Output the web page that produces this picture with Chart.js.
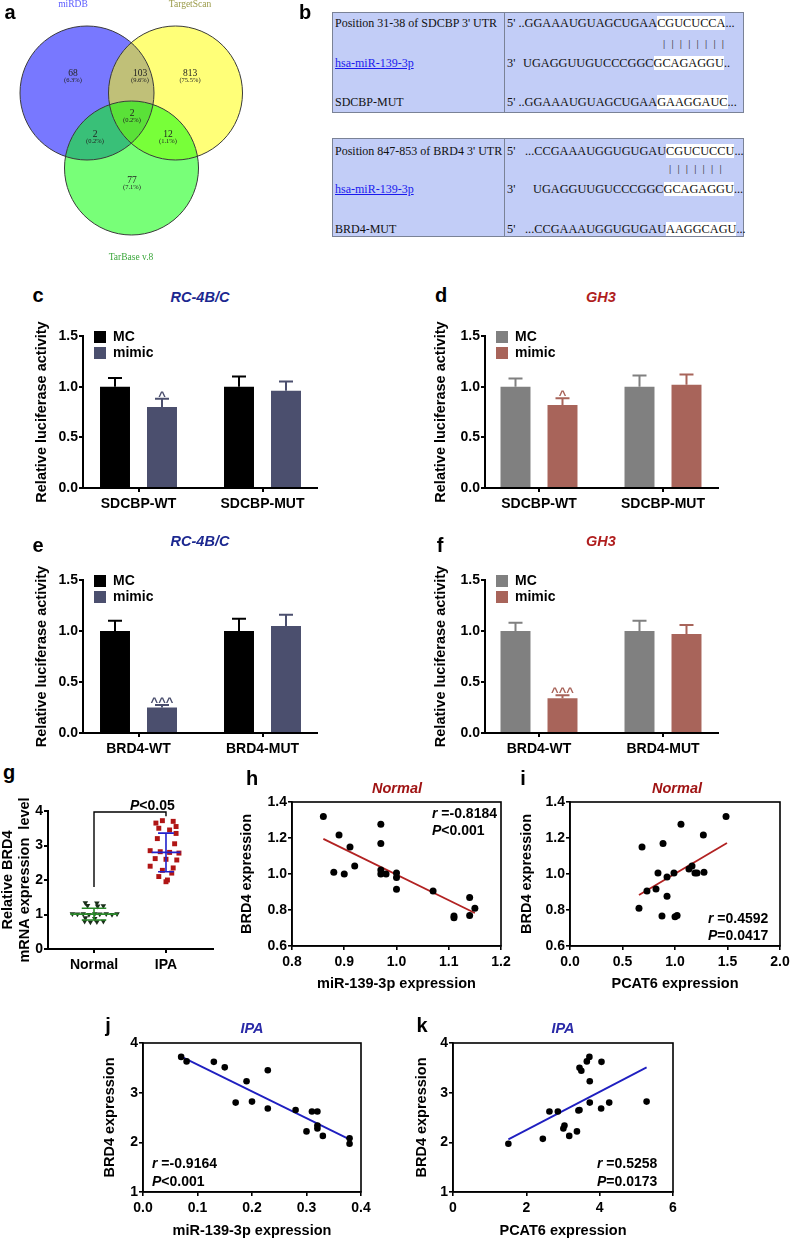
<!DOCTYPE html>
<html>
<head>
<meta charset="utf-8">
<title>miR-139-3p / BRD4</title>
<script src="https://cdn.jsdelivr.net/npm/chart.js@4.4.1/dist/chart.umd.min.js"></script>
<style>
  body { margin: 0; background: #fff; }
  #page { position: relative; width: 790px; height: 1240px; overflow: hidden; font-family: "Liberation Sans", Arial, sans-serif; }
  #page canvas { position: absolute; }
  .txt { position: absolute; white-space: nowrap; line-height: 1; font-weight: bold; }
  .mid { transform: translate(-50%, -50%); }
  .letter { font-size: 20px; }
  .ttl { font-size: 14.5px; font-style: italic; }
  .stat { font-size: 14px; transform: translateY(-50%); }
  .seq { position: absolute; box-sizing: border-box; background: #c2cdf7; border: 1px solid #7a8296;
         font-family: "Liberation Serif", "Times New Roman", serif; font-size: 12px; color: #111; }
  .seq .v { position: absolute; top: 0; bottom: 0; border-left: 1px solid #7a8296; }
  .seq .r { position: absolute; white-space: nowrap; line-height: 15px; }
  .seq .s { font-size: 12.3px; }
  .seq .hl { background: #fff; }
  .seq .lnk { color: #1a1aee; text-decoration: underline; }
  .seq .bars { letter-spacing: 6.2px; font-size: 11px; color: #222; }
</style>
</head>
<body>
<div id="page">
  <div class="seq" style="left:332px;top:12px;width:412px;height:101px">
    <div class="v" style="left:171px"></div>
    <span class="r" style="left:2px;top:3px">Position 31-38 of SDCBP 3' UTR</span>
    <span class="r s" style="left:174px;top:3px">5' ..GGAAAUGUAGCUGAA<span class="hl">CGUCUCCA</span>...</span>
    <span class="r bars" style="left:330px;top:23px">||||||||</span>
    <span class="r lnk" style="left:2px;top:43px">hsa-miR-139-3p</span>
    <span class="r s" style="left:174px;top:43px">3'</span>
    <span class="r s" style="left:190px;top:43px">UGAGGUUGUCCCGGC<span class="hl">GCAGAGGU</span>..</span>
    <span class="r" style="left:2px;top:82px">SDCBP-MUT</span>
    <span class="r s" style="left:174px;top:82px">5' ..GGAAAUGUAGCUGAA<span class="hl">GAAGGAUC</span>...</span>
  </div>
  <div class="seq" style="left:332px;top:138px;width:412px;height:99px">
    <div class="v" style="left:171px"></div>
    <span class="r" style="left:2px;top:5px">Position 847-853 of BRD4 3' UTR</span>
    <span class="r s" style="left:174px;top:5px">5'</span>
    <span class="r s" style="left:192px;top:5px">...CCGAAAUGGUGUGAU<span class="hl">CGUCUCCU</span>...</span>
    <span class="r bars" style="left:336px;top:22px">|||||||</span>
    <span class="r lnk" style="left:2px;top:43px">hsa-miR-139-3p</span>
    <span class="r s" style="left:174px;top:43px">3'</span>
    <span class="r s" style="left:200px;top:43px">UGAGGUUGUCCCGGC<span class="hl">GCAGAGGU</span>...</span>
    <span class="r" style="left:2px;top:83px">BRD4-MUT</span>
    <span class="r s" style="left:174px;top:83px">5'</span>
    <span class="r s" style="left:192px;top:83px">...CCGAAAUGGUGUGAU<span class="hl">AAGGCAGU</span>...</span>
  </div>
</div>
<script>
// ---------------- data ----------------
// a: Venn of predicted targets
const vennNames = ['miRDB', 'TargetScan', 'TarBase v.8'];
const vennCounts = [68, 103, 813, 2, 2, 12, 77];
const vennPct = ['(6.3%)', '(9.6%)', '(75.5%)', '(0.2%)', '(0.2%)', '(1.1%)', '(7.1%)'];

// c-f: dual luciferase
const groupNames = ['MC', 'mimic'];
const sdcbpGroups = ['SDCBP-WT', 'SDCBP-MUT'];
const brd4Groups = ['BRD4-WT', 'BRD4-MUT'];
const cMC = [1.00, 1.00],    cMCsd = [0.085, 0.10];
const cMimic = [0.80, 0.96], cMimicSd = [0.08, 0.09];
const dMC = [1.00, 1.00],    dMCsd = [0.08, 0.11];
const dMimic = [0.82, 1.02], dMimicSd = [0.065, 0.10];
const eMC = [1.00, 1.00],    eMCsd = [0.10, 0.12];
const eMimic = [0.25, 1.05], eMimicSd = [0.025, 0.11];
const fMC = [1.00, 1.00],    fMCsd = [0.08, 0.10];
const fMimic = [0.34, 0.97], fMimicSd = [0.03, 0.09];
const wtMarks = ['^', ''];
const wtMarks3 = ['^^^', ''];
const barTicks = [0, 0.5, 1.0, 1.5];

// g: BRD4 mRNA in tissue
const gGroups = ['Normal', 'IPA'];
const gNormal = [1.34, 1.33, 1.26, 1.24, 1.25, 1.02, 1.01, 1.02, 1.00, 1.02, 1.01, 1.02, 1.00, 1.02, 0.90, 0.88, 0.80, 0.78, 0.79, 0.80];
const gNormalJit = [-0.12, 0.04, -0.09, 0.05, 0.13, -0.30, -0.23, -0.15, -0.07, 0.01, 0.08, 0.17, 0.25, 0.32, -0.12, 0.01, -0.13, -0.05, 0.04, 0.13];
const gIPA = [3.72, 3.70, 3.65, 3.55, 3.50, 3.45, 3.35, 3.20, 3.05, 2.85, 2.82, 2.80, 2.78, 2.62, 2.60, 2.58, 2.40, 2.35, 2.28, 2.20, 2.10, 2.00, 1.95];
const gIPAJit = [-0.05, 0.10, -0.14, 0.14, -0.10, 0.05, 0.14, -0.12, 0.12, -0.22, -0.08, 0.05, 0.18, -0.15, 0.00, 0.15, -0.22, 0.10, -0.05, 0.08, -0.10, 0.02, 0.00];
const gMeans = [1.01, 2.80];
const gSds = [0.17, 0.56];
const gTicks = [0, 1, 2, 3, 4];

// h: Normal, miR-139-3p vs BRD4
const hX = [0.86, 0.89, 0.911, 0.97, 0.97, 0.88, 0.90, 0.92, 0.97, 0.97, 0.98, 1.00, 1.00, 1.00, 1.07, 1.14, 1.11, 1.11, 1.14, 1.15];
const hY = [1.32, 1.217, 1.15, 1.277, 1.17, 1.01, 1.00, 1.044, 1.022, 1.00, 1.00, 1.005, 0.98, 0.915, 0.906, 0.87, 0.767, 0.757, 0.77, 0.81];
const hFitX = [0.86, 1.15], hFitY = [1.195, 0.783];
const hXTicks = [0.8, 0.9, 1.0, 1.1, 1.2];
// i: Normal, PCAT6 vs BRD4
const iX = [0.686, 0.886, 1.057, 1.27, 1.486, 0.657, 0.733, 0.819, 0.838, 0.924, 0.924, 0.876, 0.99, 1.0, 1.02, 1.133, 1.162, 1.19, 1.21, 1.276];
const iY = [1.15, 1.17, 1.277, 1.217, 1.32, 0.81, 0.906, 0.917, 1.005, 0.983, 0.877, 0.767, 1.005, 0.762, 0.77, 1.028, 1.045, 1.005, 1.005, 1.01];
const iFitX = [0.657, 1.495], iFitY = [0.883, 1.172];
const iXTicks = [0, 0.5, 1.0, 1.5, 2.0];
const normalYTicks = [0.6, 0.8, 1.0, 1.2, 1.4];
// j: IPA, miR-139-3p vs BRD4
const jX = [0.070, 0.080, 0.130, 0.150, 0.190, 0.229, 0.170, 0.200, 0.229, 0.280, 0.310, 0.320, 0.320, 0.320, 0.300, 0.330, 0.379, 0.379];
const jY = [3.72, 3.63, 3.62, 3.51, 3.23, 3.45, 2.80, 2.82, 2.68, 2.65, 2.62, 2.62, 2.34, 2.28, 2.22, 2.13, 2.08, 1.97];
const jFitX = [0.073, 0.379], jFitY = [3.71, 2.06];
const jXTicks = [0, 0.1, 0.2, 0.3, 0.4];
// k: IPA, PCAT6 vs BRD4
const kX = [1.51, 2.45, 2.63, 2.86, 3.01, 3.04, 3.17, 3.38, 3.42, 3.45, 3.45, 3.50, 3.65, 3.72, 3.73, 3.73, 4.05, 4.04, 4.26, 5.28];
const kY = [1.97, 2.07, 2.62, 2.62, 2.28, 2.34, 2.13, 2.22, 2.64, 2.65, 3.50, 3.44, 3.63, 3.72, 3.23, 2.80, 3.62, 2.68, 2.80, 2.82];
const kFitX = [1.51, 5.28], kFitY = [2.06, 3.51];
const kXTicks = [0, 2, 4, 6];
const ipaYTicks = [1, 2, 3, 4];

// ---------------- helpers ----------------
const LS = '"Liberation Sans", Arial, sans-serif';
const SERIF = '"Liberation Serif", "Times New Roman", serif';
const TITLE_SIZE = 14.5;
Chart.defaults.font.family = LS;
Chart.defaults.color = '#000';

const page = document.getElementById('page');

function addCanvas(box) {
  const c = document.createElement('canvas');
  c.width = box.w;
  c.height = box.h;
  c.style.left = box.x + 'px';
  c.style.top = box.y + 'px';
  page.appendChild(c);
  return c;
}

function addText(html, x, y, cls, color) {
  const d = document.createElement('div');
  d.className = 'txt ' + cls;
  d.style.left = x + 'px';
  d.style.top = y + 'px';
  if (color) d.style.color = color;
  d.innerHTML = html;
  page.appendChild(d);
}

const fix1 = v => v.toFixed(1);
const int0 = v => v.toFixed(0);

// builds x/y axes so the plot area lands on g.area (page coords)
function axesOptions(g, xs, ys) {
  const lh = TITLE_SIZE * 1.2;
  const lw = g.lw || 2;
  const mk = (s, isX) => ({
    type: 'linear', min: s.min, max: s.max, offset: false,
    border: { display: true, color: '#000', width: lw },
    grid: { display: true, drawOnChartArea: false, drawTicks: true, tickLength: 4, color: '#000', lineWidth: lw, offset: false },
    ticks: { font: { size: 14, weight: 'bold' }, color: '#000', padding: isX ? 3.5 : 1, maxRotation: 0, autoSkip: false, callback: s.fmt },
    afterBuildTicks: sc => { sc.ticks = s.ticks.map(v => ({ value: v })); },
    title: s.title ? {
      display: true, text: s.title, color: '#000', font: { size: TITLE_SIZE, weight: 'bold' },
      padding: isX ? { top: 0, bottom: g.box.y + g.box.h - g.xTitleY - lh / 2 }
                   : { top: g.yTitleX - g.box.x - lh / 2, bottom: 0 }
    } : { display: false },
    afterFit: sc => {
      if (isX) sc.height = g.box.y + g.box.h - g.area.b;
      else sc.width = g.area.l - g.box.x;
    }
  });
  return {
    responsive: false, animation: false, events: [],
    layout: { autoPadding: false, padding: { left: 0, top: g.area.t - g.box.y, right: g.box.x + g.box.w - g.area.r, bottom: 0 } },
    scales: { x: mk(xs, true), y: mk(ys, false) },
    plugins: { legend: { display: false }, tooltip: { enabled: false } }
  };
}

// error bars (upper only) + significance marks over bars
const errorBars = {
  id: 'errorBars',
  afterDatasetsDraw(chart) {
    const ctx = chart.ctx, y = chart.scales.y;
    chart.data.datasets.forEach((ds, di) => {
      const meta = chart.getDatasetMeta(di);
      meta.data.forEach((bar, i) => {
        const top = y.getPixelForValue(ds.data[i].y + ds.errors[i]);
        ctx.save();
        ctx.strokeStyle = ds.backgroundColor;
        ctx.lineWidth = 2;
        ctx.beginPath();
        ctx.moveTo(bar.x, bar.y);
        ctx.lineTo(bar.x, top);
        ctx.moveTo(bar.x - 7, top);
        ctx.lineTo(bar.x + 7, top);
        ctx.stroke();
        if (ds.marks && ds.marks[i]) {
          ctx.fillStyle = ds.backgroundColor;
          ctx.font = 'bold 13px ' + LS;
          ctx.textAlign = 'center';
          ctx.textBaseline = 'alphabetic';
          ctx.fillText(ds.marks[i], bar.x, top + 1);
        }
        ctx.restore();
      });
    });
  }
};

// square legend inside the plot, top-left
const boxLegend = {
  id: 'boxLegend',
  afterDraw(chart) {
    const { ctx, chartArea: a } = chart;
    chart.data.datasets.forEach((ds, i) => {
      const y = a.top + 1 + i * 16;
      ctx.save();
      ctx.fillStyle = ds.backgroundColor;
      ctx.fillRect(a.left + 11, y - 6, 12, 12);
      ctx.fillStyle = '#000';
      ctx.font = 'bold 14px ' + LS;
      ctx.textBaseline = 'middle';
      ctx.fillText(ds.label, a.left + 30, y + 0.5);
      ctx.restore();
    });
  }
};

const boxFrame = {
  id: 'boxFrame',
  beforeDatasetsDraw(chart) {
    const { ctx, chartArea: a } = chart;
    ctx.save();
    ctx.strokeStyle = '#000';
    ctx.lineWidth = 1.6;
    ctx.strokeRect(a.left, a.top, a.right - a.left, a.bottom - a.top);
    ctx.restore();
  }
};

function barPanel(g, groups, mc, mcSd, mimic, mimicSd, marks, colors) {
  const unit = 124;
  const xmin = 1 - g.firstCenter / unit;
  const xmax = xmin + (g.area.r - g.area.l) / unit;
  const opts = axesOptions(g,
    { min: xmin, max: xmax, ticks: [1, 2], fmt: v => groups[Math.round(v) - 1] },
    { min: 0, max: 1.5, ticks: barTicks, fmt: fix1, title: 'Relative luciferase activity' });
  new Chart(addCanvas(g.box), {
    type: 'bar',
    data: {
      datasets: [
        { label: groupNames[0], data: mc.map((v, i) => ({ x: i + 1, y: v })), errors: mcSd, backgroundColor: colors[0] },
        { label: groupNames[1], data: mimic.map((v, i) => ({ x: i + 1, y: v })), errors: mimicSd, marks: marks, backgroundColor: colors[1] }
      ]
    },
    options: Object.assign(opts, {
      datasets: { bar: { categoryPercentage: 0.758, barPercentage: 0.638, borderWidth: 0 } }
    }),
    plugins: [errorBars, boxLegend]
  });
}

function scatterPanel(g, xs, ys, px, py, fx, fy, lineColor, radius) {
  new Chart(addCanvas(g.box), {
    type: 'scatter',
    data: {
      datasets: [
        { data: px.map((v, i) => ({ x: v, y: py[i] })), pointRadius: radius, pointBackgroundColor: '#000', pointBorderWidth: 0 },
        { type: 'line', data: fx.map((v, i) => ({ x: v, y: fy[i] })), borderColor: lineColor, borderWidth: 1.8, pointRadius: 0, fill: false }
      ]
    },
    options: axesOptions(g, xs, ys),
    plugins: [boxFrame]
  });
}

// ---------------- a: Venn ----------------
const vennText = {
  id: 'vennText',
  afterDatasetsDraw(chart, args, o) {
    const { ctx, scales: { x, y } } = chart;
    ctx.save();
    ctx.textAlign = 'center';
    ctx.textBaseline = 'middle';
    o.regions.forEach((p, i) => {
      ctx.fillStyle = '#222';
      ctx.font = '9.5px ' + SERIF;
      ctx.fillText(String(vennCounts[i]), x.getPixelForValue(p[0]), y.getPixelForValue(p[1]));
      ctx.font = '6.5px ' + SERIF;
      ctx.fillText(vennPct[i], x.getPixelForValue(p[0]), y.getPixelForValue(p[1] + 7));
    });
    o.names.forEach((p, i) => {
      ctx.fillStyle = o.nameColors[i];
      ctx.font = '9.5px ' + SERIF;
      ctx.fillText(vennNames[i], x.getPixelForValue(p[0]), y.getPixelForValue(p[1]));
    });
    ctx.restore();
  }
};

{
  // canvas 250 px wide over a 0..250 scale, so r (pixels) equals scale units
  const box = { x: 0, y: 0, w: 250, h: 265 };
  const circles = [{ x: 87, y: 93, r: 67 }, { x: 175.5, y: 93, r: 67 }, { x: 131.5, y: 168, r: 67 }];
  new Chart(addCanvas(box), {
    type: 'bubble',
    data: {
      datasets: [
        { data: circles, backgroundColor: 'rgba(0,0,0,0)', borderColor: '#3a3a3a', borderWidth: 1 },
        { data: circles, backgroundColor: ['rgba(0,0,255,0.53)', 'rgba(255,255,0,0.53)', 'rgba(0,255,0,0.53)'], borderWidth: 0 }
      ]
    },
    options: {
      responsive: false, animation: false, events: [],
      layout: { autoPadding: false, padding: 0 },
      clip: false,
      scales: {
        x: { type: 'linear', display: false, min: 0, max: 250 },
        y: { type: 'linear', display: false, min: 0, max: 265, reverse: true }
      },
      plugins: {
        legend: { display: false }, tooltip: { enabled: false },
        vennText: {
          regions: [[73, 73], [140, 73], [190, 73], [132, 113], [95, 134], [168, 134], [132, 180]],
          names: [[73, 4], [190, 4], [131, 257]],
          nameColors: ['#5a5aff', '#9a9a48', '#3aa63a']
        }
      }
    },
    plugins: [vennText]
  });
}

// ---------------- c-f: bars ----------------
const navy = '#1c2890', brick = '#b01e1e';
const darkPair = ['#000000', '#4b4f6e'];
const greyPair = ['#808080', '#a8645a'];

barPanel({ box: { x: 20, y: 310, w: 310, h: 215 }, area: { l: 83, t: 336, r: 317, b: 488 }, yTitleX: 42, firstCenter: 55.5 },
  sdcbpGroups, cMC, cMCsd, cMimic, cMimicSd, wtMarks, darkPair);
barPanel({ box: { x: 420, y: 310, w: 310, h: 215 }, area: { l: 485, t: 336, r: 718, b: 488 }, yTitleX: 441, firstCenter: 54 },
  sdcbpGroups, dMC, dMCsd, dMimic, dMimicSd, wtMarks, greyPair);
barPanel({ box: { x: 20, y: 555, w: 310, h: 215 }, area: { l: 83, t: 580, r: 317, b: 733 }, yTitleX: 42, firstCenter: 55.5 },
  brd4Groups, eMC, eMCsd, eMimic, eMimicSd, wtMarks3, darkPair);
barPanel({ box: { x: 420, y: 555, w: 310, h: 215 }, area: { l: 485, t: 580, r: 718, b: 733 }, yTitleX: 441, firstCenter: 54 },
  brd4Groups, fMC, fMCsd, fMimic, fMimicSd, wtMarks3, greyPair);

// ---------------- g: dot plot ----------------
const meanSd = {
  id: 'meanSd',
  afterDatasetsDraw(chart, args, o) {
    const { ctx, scales: { x, y } } = chart;
    const X = v => x.getPixelForValue(v), Y = v => y.getPixelForValue(v);
    ctx.save();
    ctx.lineWidth = 1.6;
    gMeans.forEach((m, i) => {
      const c = i + 1, sd = gSds[i];
      ctx.strokeStyle = o.colors[i];
      ctx.beginPath();
      ctx.moveTo(X(c - o.meanHalf[i]), Y(m)); ctx.lineTo(X(c + o.meanHalf[i]), Y(m));
      ctx.moveTo(X(c), Y(m - sd)); ctx.lineTo(X(c), Y(m + sd));
      [m - sd, m + sd].forEach(v => { ctx.moveTo(X(c - o.capHalf[i]), Y(v)); ctx.lineTo(X(c + o.capHalf[i]), Y(v)); });
      ctx.stroke();
    });
    // significance bracket
    const b = o.bracket;
    ctx.strokeStyle = '#000';
    ctx.lineWidth = 1.4;
    ctx.beginPath();
    ctx.moveTo(X(1), Y(b[0])); ctx.lineTo(X(1), Y(b[1])); ctx.lineTo(X(2), Y(b[1])); ctx.lineTo(X(2), Y(b[2]));
    ctx.stroke();
    ctx.restore();
  }
};

{
  const g = { box: { x: -4, y: 790, w: 244, h: 190 }, area: { l: 48, t: 811, r: 213, b: 949 }, yTitleX: 8 };
  const opts = axesOptions(g,
    { min: 0.361, max: 2.653, ticks: [1, 2], fmt: v => gGroups[Math.round(v) - 1] },
    { min: 0, max: 4, ticks: gTicks, fmt: int0, title: ['Relative BRD4', 'mRNA expression  level'] });
  opts.plugins.meanSd = { colors: ['#2a8a2a', '#2222cc'], meanHalf: [0.33, 0.2], capHalf: [0.17, 0.11], bracket: [1.8, 3.97, 3.85] };
  new Chart(addCanvas(g.box), {
    type: 'scatter',
    data: {
      datasets: [
        { data: gNormal.map((v, i) => ({ x: 1 + gNormalJit[i], y: v })), pointStyle: 'triangle', rotation: 180, pointRadius: 3.2, pointBackgroundColor: '#1a2e1a', pointBorderWidth: 0 },
        { data: gIPA.map((v, i) => ({ x: 2 + gIPAJit[i], y: v })), pointStyle: 'rect', pointRadius: 3.5, pointBackgroundColor: '#b01515', pointBorderWidth: 0 }
      ]
    },
    options: opts,
    plugins: [meanSd]
  });
}

// ---------------- h-k: correlations ----------------
const red = '#b22222', blue = '#1f1fc0';
scatterPanel({ box: { x: 235, y: 790, w: 280, h: 210 }, area: { l: 292, t: 802, r: 501, b: 946 }, yTitleX: 247, xTitleY: 984, lw: 1.6 },
  { min: 0.8, max: 1.2, ticks: hXTicks, fmt: fix1, title: 'miR-139-3p expression' },
  { min: 0.6, max: 1.4, ticks: normalYTicks, fmt: fix1, title: 'BRD4 expression' },
  hX, hY, hFitX, hFitY, red, 3.5);
scatterPanel({ box: { x: 515, y: 790, w: 285, h: 210 }, area: { l: 570, t: 802, r: 780, b: 946 }, yTitleX: 527, xTitleY: 984, lw: 1.6 },
  { min: 0, max: 2, ticks: iXTicks, fmt: fix1, title: 'PCAT6 expression' },
  { min: 0.6, max: 1.4, ticks: normalYTicks, fmt: fix1, title: 'BRD4 expression' },
  iX, iY, iFitX, iFitY, red, 3.5);
scatterPanel({ box: { x: 95, y: 1030, w: 285, h: 210 }, area: { l: 143, t: 1043, r: 361, b: 1192 }, yTitleX: 110, xTitleY: 1231, lw: 1.6 },
  { min: 0, max: 0.4, ticks: jXTicks, fmt: fix1, title: 'miR-139-3p expression' },
  { min: 1, max: 4, ticks: ipaYTicks, fmt: int0, title: 'BRD4 expression' },
  jX, jY, jFitX, jFitY, blue, 3.3);
scatterPanel({ box: { x: 405, y: 1030, w: 285, h: 210 }, area: { l: 453, t: 1043, r: 673, b: 1192 }, yTitleX: 422, xTitleY: 1231, lw: 1.6 },
  { min: 0, max: 6, ticks: kXTicks, fmt: int0, title: 'PCAT6 expression' },
  { min: 1, max: 4, ticks: ipaYTicks, fmt: int0, title: 'BRD4 expression' },
  kX, kY, kFitX, kFitY, blue, 3.3);

// ---------------- text overlays ----------------
[['a', 10, 12], ['b', 305, 12], ['c', 38, 295], ['d', 441, 295], ['e', 38, 545], ['f', 440, 545],
 ['g', 9, 772], ['h', 252, 778], ['i', 523, 778], ['j', 108, 1025], ['k', 422, 1025]]
  .forEach(l => addText(l[0], l[1], l[2], 'letter mid'));

addText('RC-4B/C', 200, 297, 'ttl mid', navy);
addText('GH3', 601, 297, 'ttl mid', brick);
addText('RC-4B/C', 200, 541, 'ttl mid', navy);
addText('GH3', 601, 541, 'ttl mid', brick);
addText('Normal', 397, 788, 'ttl mid', '#a01414');
addText('Normal', 677, 788, 'ttl mid', '#a01414');
addText('IPA', 252, 1028, 'ttl mid', '#2a2aa8');
addText('IPA', 563, 1028, 'ttl mid', '#2a2aa8');

addText('<i>P</i>&lt;0.05', 130, 805, 'stat mid');
addText('<i>r</i> =-0.8184', 432, 813, 'stat');
addText('<i>P</i>&lt;0.001', 432, 830, 'stat');
addText('<i>r</i> =0.4592', 708, 918, 'stat');
addText('<i>P</i>=0.0417', 708, 935, 'stat');
addText('<i>r</i> =-0.9164', 152, 1163, 'stat');
addText('<i>P</i>&lt;0.001', 152, 1181, 'stat');
addText('<i>r</i> =0.5258', 597, 1163, 'stat');
addText('<i>P</i>=0.0173', 597, 1181, 'stat');
</script>
</body>
</html>
